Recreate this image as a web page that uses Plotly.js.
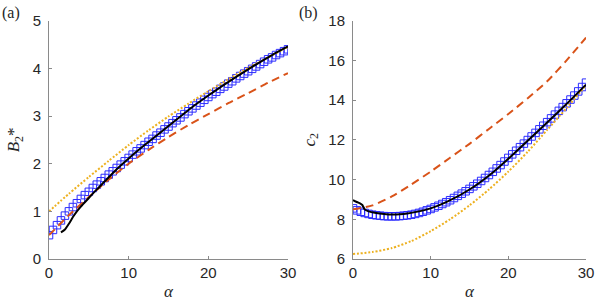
<!DOCTYPE html>
<html><head><meta charset="utf-8">
<script src="https://cdn.plot.ly/plotly-3.0.1.min.js"></script>
<style>html,body{margin:0;padding:0;background:#fff}#c{width:595px;height:303px}</style>
</head><body><div id="c"></div>
<script>
// ---- data ----
const alphaSq = [0,0.5,1,1.5,2,2.5,3,3.5,4,4.5,5,5.5,6,6.5,7,7.5,8,8.5,9,9.5,10,10.5,11,11.5,12,12.5,13,13.5,14,14.5,15,15.5,16,16.5,17,17.5,18,18.5,19,19.5,20,20.5,21,21.5,22,22.5,23,23.5,24,24.5,25,25.5,26,26.5,27,27.5,28,28.5,29,29.5,30];
const aSquares = [0.50,0.61,0.71,0.81,0.91,1.00,1.09,1.17,1.26,1.34,1.41,1.49,1.56,1.63,1.70,1.77,1.84,1.91,1.98,2.05,2.12,2.19,2.26,2.32,2.39,2.46,2.52,2.59,2.65,2.72,2.78,2.85,2.91,2.97,3.04,3.10,3.16,3.22,3.28,3.34,3.40,3.46,3.51,3.57,3.62,3.68,3.73,3.79,3.84,3.89,3.94,3.99,4.04,4.09,4.14,4.19,4.23,4.28,4.32,4.36,4.40];
const aBlackX = [1.5,2,2.5,3,3.5,4,5,6,7,8,9,10,12,15,18,20,22,25,28,30];
const aBlackY = [0.56,0.62,0.74,0.88,1.00,1.10,1.28,1.46,1.63,1.80,1.96,2.11,2.39,2.79,3.19,3.43,3.66,3.98,4.28,4.46];
const lineX = [0,2.5,5,7.5,10,12.5,15,17.5,20,22.5,25,27.5,30];
const aDashed = [0.50,0.92,1.30,1.67,2.00,2.29,2.56,2.81,3.04,3.27,3.48,3.70,3.90];
const aDotted = [1.00,1.37,1.72,2.06,2.39,2.70,2.99,3.26,3.52,3.77,4.01,4.23,4.45];

const bSquares = [8.55,8.45,8.38,8.32,8.27,8.23,8.20,8.18,8.16,8.15,8.15,8.15,8.16,8.18,8.20,8.23,8.27,8.32,8.38,8.45,8.52,8.60,8.68,8.77,8.86,8.96,9.07,9.18,9.29,9.41,9.53,9.66,9.79,9.93,10.08,10.23,10.39,10.56,10.73,10.91,11.09,11.27,11.45,11.63,11.81,11.99,12.17,12.35,12.53,12.71,12.89,13.08,13.27,13.46,13.65,13.84,14.03,14.23,14.44,14.66,14.88];
const bBlackX = [0,0.5,1,1.2,1.5,2,3,4,5,6,7,8,10,12,15,18,20,22,25,28,30];
const bBlackY = [8.97,8.87,8.78,8.72,8.50,8.40,8.32,8.27,8.24,8.25,8.29,8.36,8.55,8.86,9.50,10.36,11.05,11.78,12.87,14.00,14.78];
const bDashed = [8.50,8.70,9.15,9.75,10.40,11.10,11.80,12.55,13.30,14.10,14.95,16.00,17.15];
const bDotted = [6.25,6.35,6.55,6.90,7.40,8.00,8.70,9.50,10.40,11.40,12.50,13.60,14.75];

const xTicks = [0,10,20,30];
const aYTicks = [0,1,2,3,4,5];
const bYTicks = [6,8,10,12,14,16,18];

// ---- styles ----
const BLUE='#2b2bff', RED='#D95319', GOLD='#EDB120', AX='#8a8a8a', TXT='#262626';
function sq(x,y,xa,ya){return {x:x,y:y,xaxis:xa,yaxis:ya,mode:'markers',type:'scatter',
  marker:{symbol:'square-open',size:7.5,color:BLUE,line:{width:1,color:BLUE}},hoverinfo:'skip'};}
function ln(x,y,xa,ya,color,dash,w){return {x:x,y:y,xaxis:xa,yaxis:ya,mode:'lines',type:'scatter',
  line:{color:color,dash:dash,width:w,shape:'spline',smoothing:0.6},hoverinfo:'skip'};}

const data = [
  sq(alphaSq,aSquares,'x','y'),
  ln(lineX,aDashed,'x','y',RED,'8px,5px',2),
  ln(lineX,aDotted,'x','y',GOLD,'2px,1.8px',2),
  ln(aBlackX,aBlackY,'x','y','#000','solid',2),
  sq(alphaSq,bSquares,'x2','y2'),
  ln(lineX,bDashed,'x2','y2',RED,'8px,5px',2),
  ln(lineX,bDotted,'x2','y2',GOLD,'2px,1.8px',2),
  ln(bBlackX,bBlackY,'x2','y2','#000','solid',2)
];

const tickFont={family:'Liberation Sans, Arial, sans-serif',size:15,color:TXT};
const serif='Liberation Serif, Times New Roman, serif';
function xax(dom,anchor){return {domain:dom,anchor:anchor,range:[0,30],tickvals:xTicks,ticktext:xTicks.map(String),
  showline:true,linecolor:AX,linewidth:1,ticks:'inside',ticklen:3,tickcolor:AX,showgrid:false,zeroline:false,
  tickfont:tickFont,title:{text:'<i>α</i>',font:{family:serif,size:17,color:TXT},standoff:5}};}
function yax(dom,anchor,rng,tv,title){return {domain:dom,anchor:anchor,range:rng,tickvals:tv,ticktext:tv.map(String),
  showline:true,linecolor:AX,linewidth:1,ticks:'inside',ticklen:3,tickcolor:AX,showgrid:false,zeroline:false,
  tickfont:tickFont,ticklabelstandoff:4,title:{text:title,font:{family:serif,size:17,color:TXT},standoff:8}};}

const yd=[1-259/303,1-20.7/303];
const layout={width:595,height:303,margin:{l:0,r:0,t:0,b:0},showlegend:false,
  paper_bgcolor:'#fff',plot_bgcolor:'rgba(0,0,0,0)',
  xaxis:xax([49/595,288/595],'y'),
  yaxis:yax(yd,'x',[0,5],aYTicks,'<i>B</i><sub>2</sub>*'),
  xaxis2:xax([353/595,586/595],'y2'),
  yaxis2:yax(yd,'x2',[6,18],bYTicks,'<i>c</i><sub>2</sub>'),
  annotations:[
    {text:'(a)',xref:'paper',yref:'paper',x:0/595,y:1-12.5/303,xanchor:'left',yanchor:'middle',showarrow:false,font:{family:serif,size:16,color:TXT}},
    {text:'(b)',xref:'paper',yref:'paper',x:297/595,y:1-12.5/303,xanchor:'left',yanchor:'middle',showarrow:false,font:{family:serif,size:16,color:TXT}}
  ]};
Plotly.newPlot('c',data,layout,{staticPlot:true,displayModeBar:false});
</script></body></html>
